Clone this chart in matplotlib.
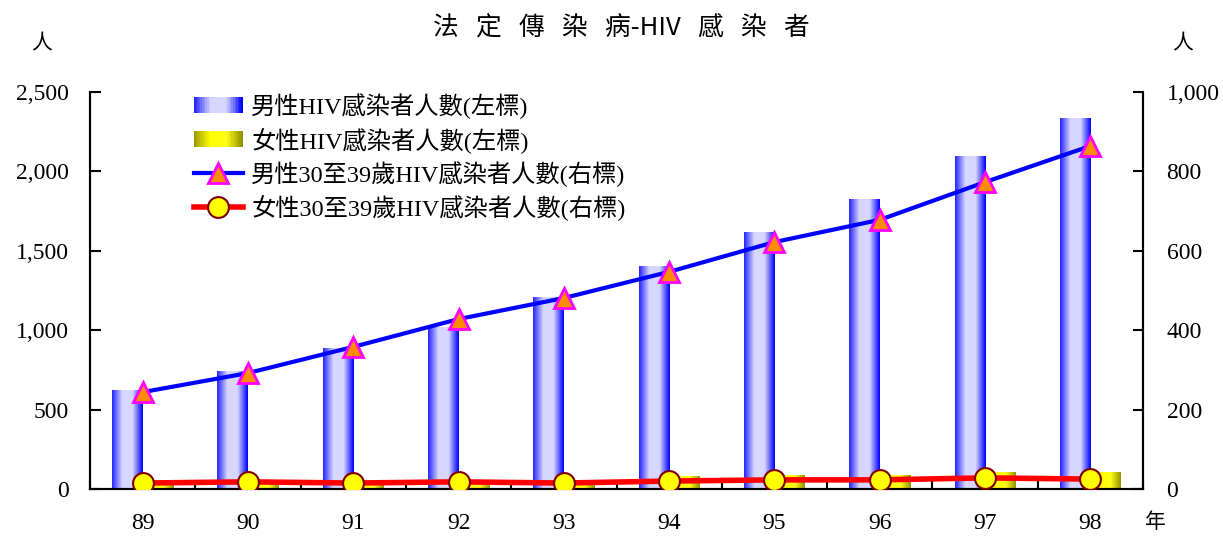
import numpy as np
import matplotlib
matplotlib.use("Agg")
import matplotlib.pyplot as plt
from matplotlib.lines import Line2D
from matplotlib.patches import Rectangle
from matplotlib.legend_handler import HandlerBase
from matplotlib.ticker import FuncFormatter, FixedLocator

plt.rcParams['font.family'] = ['Liberation Serif', 'Noto Sans CJK TC']

# data
years = ['89', '90', '91', '92', '93', '94', '95', '96', '97', '98']
male_total = [623, 737, 882, 1014, 1203, 1398, 1618, 1826, 2091, 2336]
female_total = [28, 35, 38, 42, 52, 76, 82, 88, 101, 107]
male_30_39 = [244, 292, 358, 428, 481, 547, 622, 678, 773, 864]
female_30_39 = [15, 18, 15, 18, 15, 20, 23, 23, 28, 25]

title = '法   定   傳   染   病-HIV   感   染   者'
lbl_m = '男性HIV感染者人數(左標)'
lbl_f = '女性HIV感染者人數(左標)'
lbl_m3 = '男性30至39歲HIV感染者人數(右標)'
lbl_f3 = '女性30至39歲HIV感染者人數(右標)'

blue_grad = [(0.15, 0.15, 1.0), (0.84, 0.84, 1.0), (0.84, 0.84, 1.0), (0.0, 0.0, 1.0)]
yel_grad = [(0.62, 0.62, 0.0), (1.0, 1.0, 0.0), (1.0, 1.0, 0.1), (0.58, 0.58, 0.0)]


def grad_row(stops, n=64):
    pos = np.linspace(0, 1, len(stops))
    t = np.linspace(0, 1, n)
    arr = np.array(stops)
    rgb = np.stack([np.interp(t, pos, arr[:, k]) for k in range(3)], axis=-1)
    return rgb[None, :, :]


class GradHandler(HandlerBase):
    def __init__(self, stops):
        super().__init__()
        self.stops = stops

    def create_artists(self, legend, orig_handle, xdescent, ydescent,
                       width, height, fontsize, trans):
        rgb = grad_row(self.stops, 30)[0]
        n = len(rgb)
        arts = []
        h = height * 0.95
        y0 = -ydescent + (height - h) / 2
        for i, c in enumerate(rgb):
            r = Rectangle((-xdescent + width * i / n, y0), width / n * 1.05, h,
                          facecolor=c, edgecolor='none', transform=trans)
            arts.append(r)
        return arts


fig = plt.figure(figsize=(12.23, 5.36), dpi=100)
ax = fig.add_axes([90 / 1223, 47 / 536, 1053 / 1223, 397 / 536])
ax2 = ax.twinx()

x = np.arange(len(years))
bw = 0.29
for i in x:
    ax.imshow(grad_row(blue_grad), extent=(i - bw, i, 0, male_total[i]),
              aspect='auto', interpolation='bilinear', zorder=2)
    ax.imshow(grad_row(yel_grad), extent=(i, i + bw, 0, female_total[i]),
              aspect='auto', interpolation='bilinear', zorder=2)

ax.set_xlim(-0.5, len(years) - 0.5)
ax.set_ylim(0, 2500)
ax2.set_ylim(0, 1000)

ax2.plot(x, male_30_39, color='#0000FF', lw=3, marker='^', markersize=14,
         markerfacecolor='#FF8C00', markeredgecolor='#FF00FF', markeredgewidth=2,
         zorder=3)
ax2.plot(x, female_30_39, color='#FF0000', lw=4, marker='o', markersize=15,
         markerfacecolor='#FFFF00', markeredgecolor='#800000', markeredgewidth=1.5,
         zorder=4)

for a in (ax, ax2):
    a.spines['top'].set_visible(False)
    for s in ('left', 'right', 'bottom'):
        a.spines[s].set_linewidth(1.5)

ax.set_yticks([0, 500, 1000, 1500, 2000, 2500])
ax.yaxis.set_major_formatter(FuncFormatter(lambda v, p: f'{int(v):,}'))
ax2.set_yticks([0, 200, 400, 600, 800, 1000])
ax2.yaxis.set_major_formatter(FuncFormatter(lambda v, p: f'{int(v):,}'))
ax.tick_params(axis='y', direction='in', length=8, width=1.5, pad=15, labelsize=17)
ax2.tick_params(axis='y', direction='in', length=7, width=1.5, pad=17, labelsize=17)

ax.xaxis.set_major_locator(FixedLocator(np.arange(-0.5, len(years), 1)))
ax.xaxis.set_minor_locator(FixedLocator(x))
ax.set_xticklabels([])
ax.set_xticklabels(years, minor=True)
ax.tick_params(axis='x', which='major', direction='in', length=6, width=1.5)
ax.tick_params(axis='x', which='minor', length=0, pad=17, labelsize=17)

fig.text(621 / 1223, 1 - 29 / 536, title, ha='center', va='center',
         fontsize=18.5, family=['Noto Sans CJK TC', 'DejaVu Sans'])
fig.text(42 / 1223, 1 - 45 / 536, '人', ha='center', va='center', fontsize=15)
fig.text(1183 / 1223, 1 - 45 / 536, '人', ha='center', va='center', fontsize=15)
fig.text(1155 / 1223, 1 - 523 / 536, '年', ha='center', va='center', fontsize=15)

h_m = Rectangle((0, 0), 1, 1)
h_f = Rectangle((0, 0), 1, 1)
h_m3 = Line2D([], [], color='#0000FF', lw=3, marker='^', markersize=14,
              markerfacecolor='#FF8C00', markeredgecolor='#FF00FF', markeredgewidth=2)
h_f3 = Line2D([], [], color='#FF0000', lw=4, marker='o', markersize=15,
              markerfacecolor='#FFFF00', markeredgecolor='#800000', markeredgewidth=1.5)
leg = ax2.legend([h_m, h_f, h_m3, h_f3], [lbl_m, lbl_f, lbl_m3, lbl_f3],
                 handler_map={h_m: GradHandler(blue_grad), h_f: GradHandler(yel_grad)},
                 loc='upper left', bbox_to_anchor=(194 / 1223, 1 - 93 / 536),
                 bbox_transform=fig.transFigure, frameon=False, fontsize=17.5,
                 handlelength=2.0, handletextpad=0.35, labelspacing=0.33,
                 borderpad=0, borderaxespad=0)

fig.savefig('out.png', dpi=100)
